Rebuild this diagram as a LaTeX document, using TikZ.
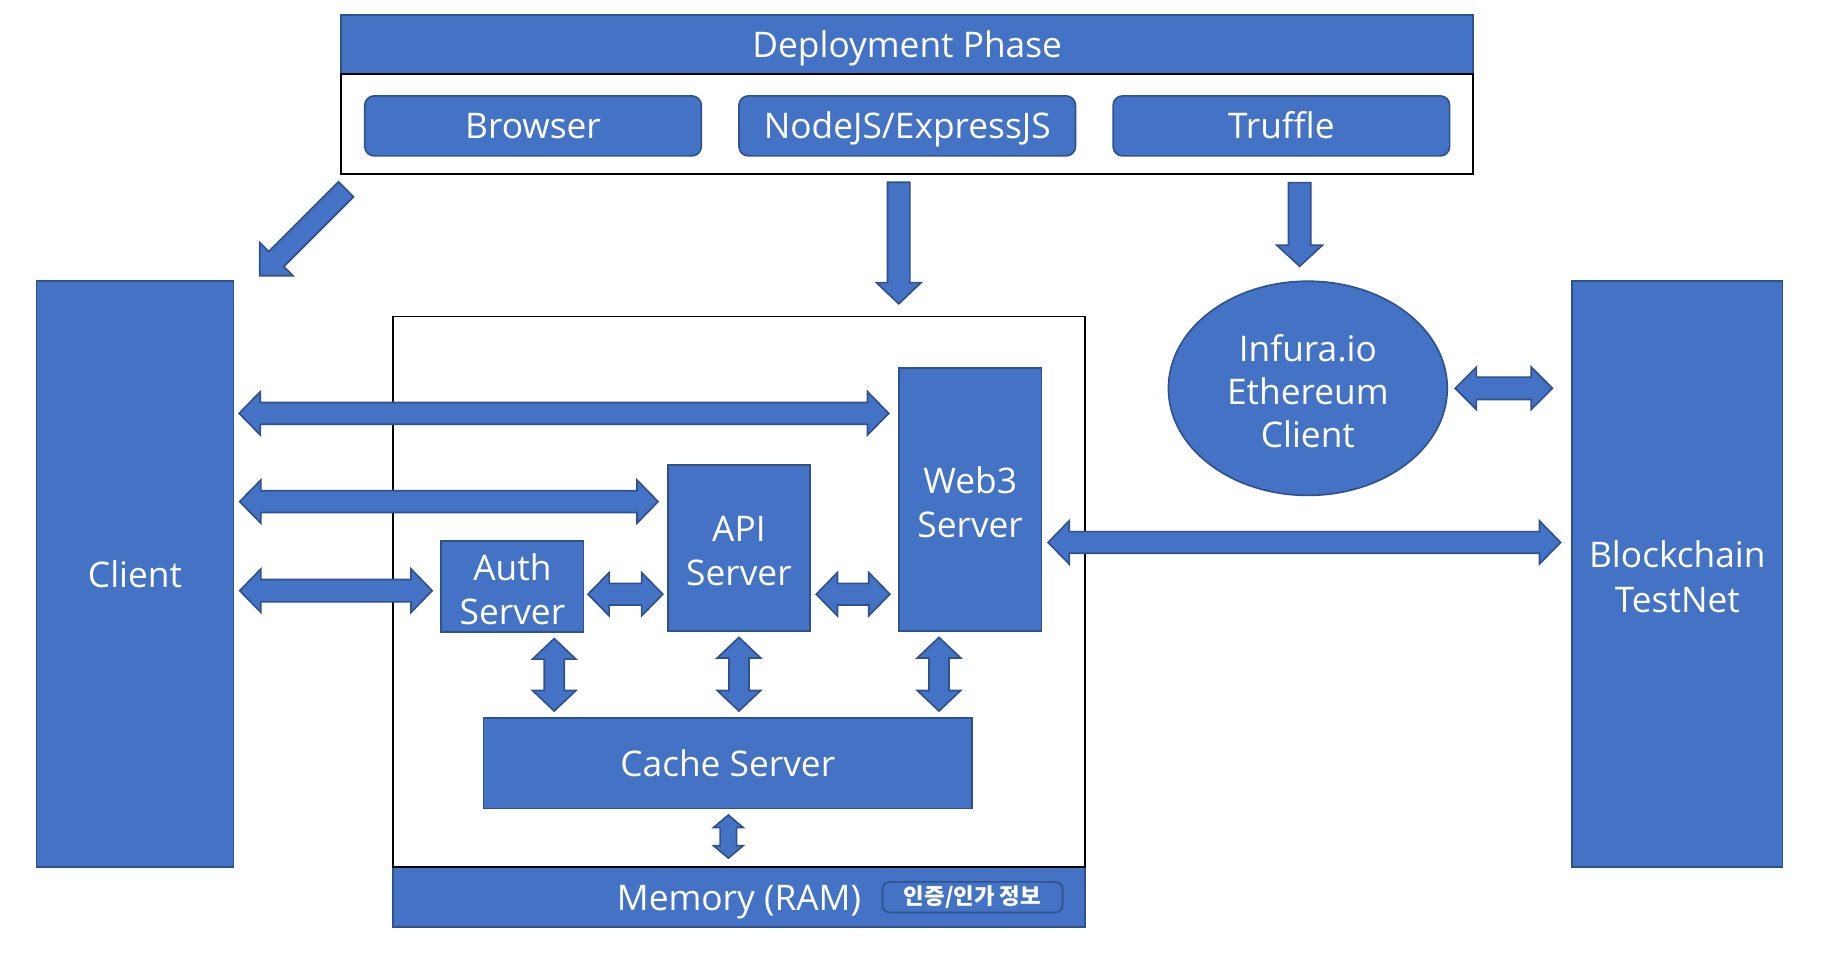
\documentclass[tikz,border=0pt]{standalone}
\usepackage{fontspec}
\setmainfont{Open Sans}
\newfontfamily\krfont{Noto Sans CJK KR}
\usetikzlibrary{calc,shapes.geometric}
\definecolor{boxblue}{HTML}{4472C4}
\definecolor{edgeblue}{HTML}{2F528F}
% block arrows: from, to, head length, half shaft, half head
\newcommand{\dblarr}[5]{%
  \draw[blockarr] (#1)
    --($(#1)!#3!(#2)!#5!90:(#2)$)--($(#1)!#3!(#2)!#4!90:(#2)$)
    --($(#2)!#3!(#1)!#4!-90:(#1)$)--($(#2)!#3!(#1)!#5!-90:(#1)$)
    --(#2)
    --($(#2)!#3!(#1)!#5!90:(#1)$)--($(#2)!#3!(#1)!#4!90:(#1)$)
    --($(#1)!#3!(#2)!#4!-90:(#2)$)--($(#1)!#3!(#2)!#5!-90:(#2)$)--cycle;}
\newcommand{\onearr}[5]{%
  \draw[blockarr] ($(#1)!#4!90:(#2)$)
    --($(#2)!#3!(#1)!#4!-90:(#1)$)--($(#2)!#3!(#1)!#5!-90:(#1)$)
    --(#2)
    --($(#2)!#3!(#1)!#5!90:(#1)$)--($(#2)!#3!(#1)!#4!90:(#1)$)
    --($(#1)!#4!-90:(#2)$)--cycle;}
\begin{document}
\begin{tikzpicture}[x=0.5pt, y=-0.5pt, font=\fontsize{15}{19}\selectfont,
	bluebox/.style={draw=edgeblue, fill=boxblue, line width=0.7pt, text=white, inner sep=0pt, align=center},
	oneline/.style={text height=11pt, text depth=0pt},
	twoline/.style={text height=32.5pt, text depth=0pt},
	toolbox/.style={bluebox, oneline, rounded corners=4pt, minimum width=143pt, minimum height=25.5pt},
	srvbox/.style={bluebox, twoline, minimum width=60.5pt},
	blockarr/.style={draw=edgeblue, fill=boxblue, line width=0.7pt, line join=miter}]
		\useasboundingbox (0,0) rectangle (1568,818);
		\node[bluebox, oneline, minimum width=481pt, minimum height=25pt] (phase) at (771,38) {Deployment Phase};
		\node[draw, line width=0.9pt, minimum width=481pt, minimum height=42.5pt, inner sep=0pt] (phasebody) at (771,105.5) {};
		\node[toolbox] (browser) at (453,107) {Browser};
		\node[toolbox] (nodejs) at (771,107) {NodeJS/ExpressJS};
		\node[toolbox] (truffle) at (1089,107) {Truffle};
		\node[bluebox, oneline, minimum width=83.75pt, minimum height=249pt] (client) at (114.75,488) {Client};
		\node[bluebox, twoline, minimum width=89.5pt, minimum height=249pt] (chain) at (1425.5,488) {Blockchain\\TestNet};
		\node[bluebox, ellipse, text height=50pt, text depth=0pt, font=\fontsize{15}{18.3}\selectfont,
			minimum width=118.5pt, minimum height=91pt] (infura) at (1111.5,330) {Infura.io\\Ethereum\\Client};
		\node[bluebox, oneline, minimum width=294pt, minimum height=25.5pt] (memory) at (628,762.5) {Memory (RAM)};
		\node[draw, line width=0.8pt, minimum width=294pt, minimum height=234pt, inner sep=0pt] (servers) at (628,503) {};
		\node[bluebox, rounded corners=3pt, minimum width=76.5pt, minimum height=13pt, font=\krfont\bfseries\fontsize{9.5}{10}\selectfont] (badge) at (826.5,762.5) {인증/인가 정보};
		\node[srvbox, minimum height=111.5pt] (web3) at (824.5,424.5) {Web3\\Server};
		\node[srvbox, minimum height=70.5pt] (api) at (628,465.5) {API\\Server};
		\node[srvbox, minimum height=38.5pt] (auth) at (435.5,498.5) {Auth\\Server};
		\node[bluebox, oneline, minimum width=207.5pt, minimum height=38.5pt] (cache) at (618.5,648.5) {Cache Server};
		% arrow ends
		\coordinate (d1) at ($(phasebody.south west)+(5,12)$);
		\coordinate (d2) at ($(client.north east)+(21.5,-4)$);
		\coordinate (n1) at ($(phasebody.south -| web3.west)+(0.5,6)$);
		\coordinate (n2) at ($(servers.north -| n1)+(0,-10)$);
		\coordinate (t1) at ($(truffle.south)+(15.5,22)$);
		\coordinate (t2) at ($(infura.north -| t1)+(0,-12)$);
		\coordinate (i1) at ($(infura.east)+(6,0)$);
		\coordinate (i2) at ($(chain.west |- i1)+(-16,0)$);
		\coordinate (cw2) at ($(web3.north west)+(-8,39)$);
		\coordinate (cw1) at ($(client.east |- cw2)+(4,0)$);
		\coordinate (ca2) at ($(api.north west)+(-7.5,32)$);
		\coordinate (ca1) at ($(client.east |- ca2)+(4.5,0)$);
		\coordinate (cu2) at ($(auth.west)+(-7,3.5)$);
		\coordinate (cu1) at ($(client.east |- cu2)+(4.5,0)$);
		\coordinate (ua1) at ($(auth.east)+(3,6.5)$);
		\coordinate (ua2) at ($(api.west |- ua1)+(-3.5,0)$);
		\coordinate (aw1) at ($(api.east |- ua1)+(4.5,0)$);
		\coordinate (aw2) at ($(web3.west |- ua1)+(-7,0)$);
		\coordinate (wb1) at ($(web3.east)+(5,36.5)$);
		\coordinate (wb2) at ($(chain.west |- wb1)+(-9,0)$);
		\coordinate (cm1) at ($(cache.south)+(0.5,5)$);
		\coordinate (cm2) at ($(memory.north -| cm1)+(0,-7)$);
		\onearr{d1}{d2}{10pt}{4.5pt}{10pt}
		\onearr{n1}{n2}{9pt}{4.75pt}{9.5pt}
		\onearr{t1}{t2}{9pt}{4.75pt}{9.75pt}
		\dblarr{i1}{i2}{9pt}{4.75pt}{9pt}
		\dblarr{cw1}{cw2}{9pt}{4.6pt}{9.2pt}
		\dblarr{ca1}{ca2}{9pt}{4.6pt}{9.2pt}
		\dblarr{cu1}{cu2}{9pt}{4.75pt}{9.25pt}
		\dblarr{ua1}{ua2}{9pt}{4.6pt}{9.2pt}
		\dblarr{aw1}{aw2}{9pt}{4.6pt}{9.2pt}
		\dblarr{wb1}{wb2}{9pt}{4.6pt}{9.2pt}
		\foreach \n/\dx in {auth/35.5, api/0, web3/-26.5}{
			\coordinate (\n-top) at ($(\n.south)+(\dx,5)$);
			\coordinate (\n-bot) at ($(cache.north -| \n-top)+(0,-5)$);
			\dblarr{\n-top}{\n-bot}{8.75pt}{4.25pt}{9.25pt}
		}
		\dblarr{cm1}{cm2}{5.25pt}{3.5pt}{6.25pt}
\end{tikzpicture}
\end{document}
